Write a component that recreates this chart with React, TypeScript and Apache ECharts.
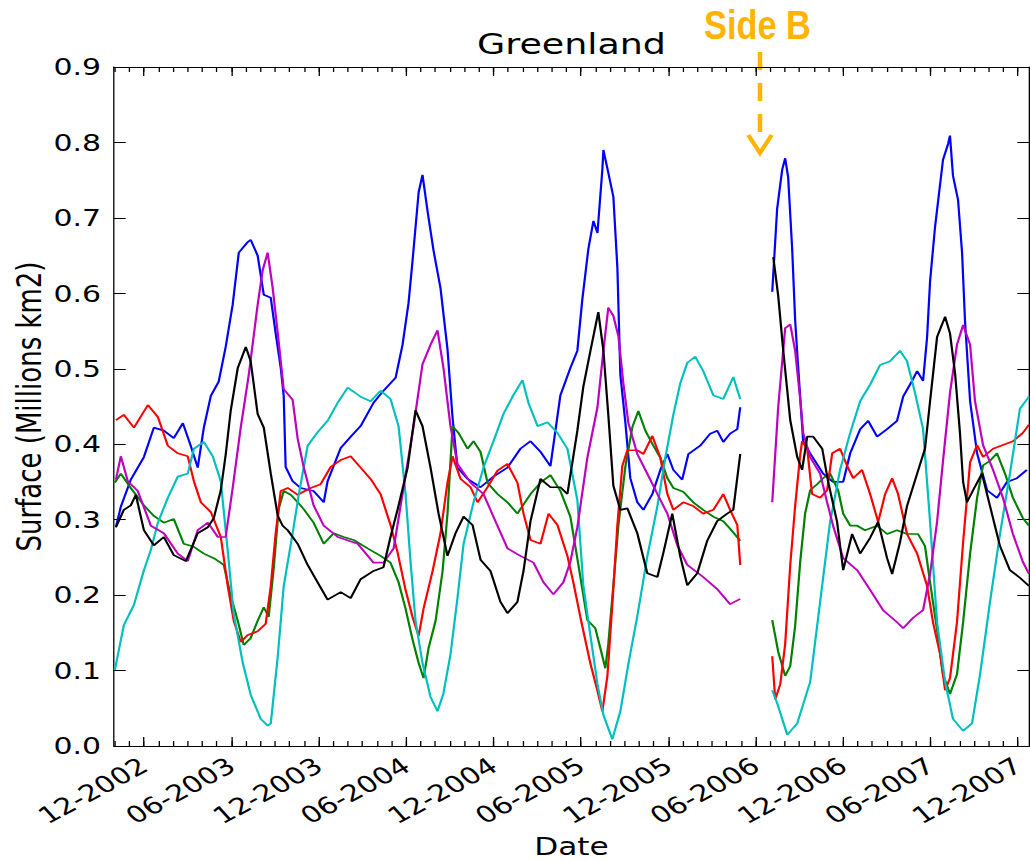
import React, { useEffect, useRef } from "react";
import * as echarts from "echarts";

// ---------- data ----------
const TICK_LABELS = [
  "12-2002", "06-2003", "12-2003", "06-2004", "12-2004", "06-2005",
  "12-2005", "06-2006", "12-2006", "06-2007", "12-2007",
];
const X_MIN = 2002.745;
const X_MAX = 2007.98;
const Y_MIN = 0;
const Y_MAX = 0.9;
const Y_STEP = 0.1;
const GAP_YEAR = 2006.42;

type Pt = [number, number];

const BLUE_A: Pt[] = [
  [2002.756, 0.29], [2002.784, 0.317], [2002.841, 0.353], [2002.916, 0.383], [2002.973, 0.422], [2003.03, 0.418],
  [2003.087, 0.408], [2003.139, 0.428], [2003.184, 0.398], [2003.224, 0.369], [2003.259, 0.422], [2003.299, 0.464],
  [2003.344, 0.483], [2003.384, 0.529], [2003.424, 0.585], [2003.459, 0.654], [2003.51, 0.668], [2003.527, 0.671],
  [2003.567, 0.65], [2003.602, 0.598], [2003.642, 0.594], [2003.67, 0.547], [2003.699, 0.501], [2003.716, 0.464],
  [2003.727, 0.37], [2003.767, 0.351], [2003.813, 0.342], [2003.887, 0.338], [2003.945, 0.323], [2003.967, 0.351],
  [2004.042, 0.395], [2004.099, 0.41], [2004.156, 0.424], [2004.23, 0.455], [2004.287, 0.471], [2004.356, 0.488],
  [2004.396, 0.532], [2004.43, 0.587], [2004.453, 0.643], [2004.488, 0.734], [2004.51, 0.757], [2004.539, 0.709],
  [2004.573, 0.657], [2004.613, 0.607], [2004.653, 0.526], [2004.682, 0.435], [2004.71, 0.369], [2004.768, 0.354],
  [2004.842, 0.343], [2004.916, 0.357], [2004.996, 0.369], [2005.07, 0.394], [2005.128, 0.404], [2005.185, 0.39],
  [2005.242, 0.371], [2005.299, 0.465], [2005.356, 0.501], [2005.396, 0.524], [2005.424, 0.591], [2005.459, 0.659],
  [2005.488, 0.696], [2005.511, 0.68], [2005.539, 0.764], [2005.545, 0.79], [2005.573, 0.76], [2005.602, 0.728],
  [2005.625, 0.634], [2005.642, 0.492], [2005.671, 0.428], [2005.699, 0.355], [2005.739, 0.323], [2005.774, 0.313],
  [2005.825, 0.334], [2005.871, 0.366], [2005.911, 0.387], [2005.945, 0.366], [2005.996, 0.353], [2006.031, 0.387],
  [2006.099, 0.398], [2006.156, 0.414], [2006.196, 0.418], [2006.231, 0.403], [2006.27, 0.414], [2006.311, 0.42],
  [2006.328, 0.449],
];
const BLUE_B: Pt[] = [
  [2006.511, 0.602], [2006.539, 0.712], [2006.568, 0.764], [2006.585, 0.779], [2006.602, 0.754], [2006.625, 0.659],
  [2006.642, 0.565], [2006.654, 0.521], [2006.688, 0.404], [2006.728, 0.388], [2006.802, 0.361], [2006.859, 0.35],
  [2006.917, 0.35], [2006.957, 0.388], [2007.014, 0.42], [2007.06, 0.431], [2007.111, 0.41], [2007.168, 0.42],
  [2007.225, 0.431], [2007.26, 0.463], [2007.311, 0.484], [2007.34, 0.497], [2007.374, 0.484], [2007.397, 0.542],
  [2007.414, 0.616], [2007.442, 0.687], [2007.488, 0.777], [2007.517, 0.798], [2007.528, 0.809], [2007.545, 0.756],
  [2007.574, 0.724], [2007.597, 0.654], [2007.614, 0.563], [2007.643, 0.457], [2007.683, 0.388], [2007.74, 0.339],
  [2007.797, 0.329], [2007.854, 0.35], [2007.911, 0.355], [2007.968, 0.366],
];

const GREEN_A: Pt[] = [
  [2002.75, 0.349], [2002.784, 0.361], [2002.841, 0.342], [2002.916, 0.319], [2002.973, 0.305], [2003.03, 0.296],
  [2003.087, 0.301], [2003.144, 0.268], [2003.202, 0.264], [2003.259, 0.255], [2003.316, 0.249], [2003.373, 0.24],
  [2003.413, 0.199], [2003.453, 0.166], [2003.487, 0.134], [2003.527, 0.143], [2003.567, 0.166], [2003.602, 0.184],
  [2003.63, 0.171], [2003.659, 0.236], [2003.687, 0.314], [2003.716, 0.338], [2003.756, 0.333], [2003.796, 0.323],
  [2003.83, 0.314], [2003.887, 0.296], [2003.945, 0.268], [2004.002, 0.282], [2004.059, 0.277], [2004.116, 0.273],
  [2004.196, 0.262], [2004.27, 0.252], [2004.327, 0.243], [2004.373, 0.217], [2004.413, 0.182], [2004.453, 0.141],
  [2004.488, 0.11], [2004.516, 0.09], [2004.545, 0.13], [2004.585, 0.166], [2004.625, 0.232], [2004.653, 0.308],
  [2004.682, 0.424], [2004.716, 0.415], [2004.768, 0.394], [2004.802, 0.404], [2004.842, 0.39], [2004.882, 0.349],
  [2004.939, 0.334], [2004.996, 0.323], [2005.053, 0.308], [2005.128, 0.334], [2005.185, 0.349], [2005.242, 0.359],
  [2005.299, 0.338], [2005.356, 0.304], [2005.402, 0.24], [2005.453, 0.167], [2005.499, 0.156], [2005.539, 0.119],
  [2005.556, 0.103], [2005.573, 0.135], [2005.602, 0.213], [2005.631, 0.293], [2005.671, 0.371], [2005.711, 0.423],
  [2005.745, 0.444], [2005.785, 0.418], [2005.831, 0.398], [2005.871, 0.382], [2005.911, 0.355], [2005.945, 0.342],
  [2006.002, 0.337], [2006.059, 0.323], [2006.116, 0.313], [2006.174, 0.304], [2006.231, 0.298], [2006.27, 0.288],
  [2006.328, 0.272],
];
const GREEN_B: Pt[] = [
  [2006.511, 0.167], [2006.545, 0.125], [2006.585, 0.093], [2006.614, 0.106], [2006.642, 0.159], [2006.671, 0.244],
  [2006.699, 0.308], [2006.728, 0.339], [2006.768, 0.347], [2006.802, 0.355], [2006.842, 0.361], [2006.888, 0.339],
  [2006.917, 0.308], [2006.957, 0.292], [2006.997, 0.292], [2007.042, 0.286], [2007.111, 0.292], [2007.168, 0.281],
  [2007.225, 0.286], [2007.282, 0.281], [2007.345, 0.281], [2007.385, 0.265], [2007.414, 0.217], [2007.454, 0.154],
  [2007.488, 0.095], [2007.528, 0.069], [2007.568, 0.095], [2007.603, 0.164], [2007.643, 0.255], [2007.683, 0.329],
  [2007.717, 0.372], [2007.757, 0.378], [2007.797, 0.388], [2007.843, 0.361], [2007.888, 0.329], [2007.945, 0.302],
  [2007.98, 0.292],
];

const RED_A: Pt[] = [
  [2002.756, 0.432], [2002.801, 0.439], [2002.859, 0.422], [2002.939, 0.452], [2002.996, 0.436], [2003.053, 0.398],
  [2003.11, 0.388], [2003.167, 0.384], [2003.202, 0.351], [2003.242, 0.323], [2003.299, 0.31], [2003.356, 0.277],
  [2003.396, 0.212], [2003.43, 0.166], [2003.47, 0.138], [2003.51, 0.147], [2003.567, 0.152], [2003.613, 0.162],
  [2003.642, 0.212], [2003.67, 0.282], [2003.699, 0.338], [2003.739, 0.342], [2003.796, 0.333], [2003.87, 0.342],
  [2003.927, 0.347], [2003.985, 0.37], [2004.042, 0.379], [2004.099, 0.384], [2004.156, 0.369], [2004.213, 0.354],
  [2004.27, 0.334], [2004.327, 0.293], [2004.367, 0.257], [2004.413, 0.207], [2004.453, 0.171], [2004.488, 0.146],
  [2004.516, 0.182], [2004.568, 0.232], [2004.613, 0.282], [2004.653, 0.349], [2004.682, 0.384], [2004.728, 0.354],
  [2004.785, 0.343], [2004.825, 0.323], [2004.882, 0.343], [2004.939, 0.365], [2004.996, 0.374], [2005.053, 0.349],
  [2005.088, 0.308], [2005.128, 0.273], [2005.185, 0.268], [2005.231, 0.308], [2005.282, 0.293], [2005.339, 0.252],
  [2005.373, 0.217], [2005.413, 0.171], [2005.471, 0.109], [2005.511, 0.073], [2005.539, 0.046], [2005.568, 0.093],
  [2005.596, 0.187], [2005.625, 0.293], [2005.653, 0.371], [2005.682, 0.392], [2005.739, 0.392], [2005.774, 0.387],
  [2005.825, 0.411], [2005.871, 0.382], [2005.911, 0.334], [2005.945, 0.313], [2006.002, 0.323], [2006.059, 0.318],
  [2006.116, 0.308], [2006.174, 0.313], [2006.231, 0.334], [2006.27, 0.313], [2006.311, 0.293], [2006.328, 0.24],
];
const RED_B: Pt[] = [
  [2006.511, 0.119], [2006.528, 0.062], [2006.557, 0.082], [2006.585, 0.135], [2006.614, 0.24], [2006.642, 0.318],
  [2006.671, 0.386], [2006.682, 0.404], [2006.711, 0.394], [2006.739, 0.334], [2006.785, 0.329], [2006.825, 0.339],
  [2006.854, 0.388], [2006.899, 0.394], [2006.94, 0.371], [2006.974, 0.355], [2007.025, 0.366], [2007.071, 0.334],
  [2007.117, 0.297], [2007.157, 0.334], [2007.197, 0.355], [2007.231, 0.334], [2007.282, 0.281], [2007.34, 0.255],
  [2007.397, 0.212], [2007.431, 0.164], [2007.471, 0.122], [2007.5, 0.074], [2007.528, 0.09], [2007.568, 0.164],
  [2007.603, 0.27], [2007.643, 0.376], [2007.683, 0.399], [2007.717, 0.383], [2007.774, 0.394], [2007.831, 0.399],
  [2007.888, 0.404], [2007.945, 0.415], [2007.98, 0.426],
];

const CYAN_A: Pt[] = [
  [2002.75, 0.101], [2002.801, 0.16], [2002.859, 0.187], [2002.916, 0.233], [2002.956, 0.26], [2002.996, 0.296],
  [2003.053, 0.329], [2003.11, 0.357], [2003.167, 0.361], [2003.202, 0.394], [2003.259, 0.403], [2003.31, 0.384],
  [2003.356, 0.351], [2003.396, 0.258], [2003.43, 0.175], [2003.482, 0.11], [2003.527, 0.068], [2003.584, 0.036],
  [2003.624, 0.027], [2003.642, 0.03], [2003.682, 0.119], [2003.716, 0.212], [2003.767, 0.282], [2003.802, 0.333],
  [2003.853, 0.398], [2003.91, 0.416], [2003.967, 0.431], [2004.025, 0.455], [2004.082, 0.475], [2004.156, 0.463],
  [2004.213, 0.457], [2004.27, 0.471], [2004.327, 0.46], [2004.373, 0.424], [2004.413, 0.334], [2004.442, 0.243],
  [2004.47, 0.166], [2004.51, 0.11], [2004.556, 0.065], [2004.596, 0.046], [2004.63, 0.07], [2004.67, 0.121],
  [2004.71, 0.196], [2004.745, 0.268], [2004.802, 0.323], [2004.859, 0.369], [2004.916, 0.404], [2004.973, 0.44],
  [2005.03, 0.465], [2005.082, 0.485], [2005.116, 0.455], [2005.168, 0.424], [2005.225, 0.429], [2005.282, 0.415],
  [2005.339, 0.394], [2005.396, 0.326], [2005.43, 0.213], [2005.471, 0.146], [2005.511, 0.082], [2005.545, 0.041],
  [2005.596, 0.009], [2005.642, 0.046], [2005.688, 0.109], [2005.739, 0.172], [2005.796, 0.251], [2005.854, 0.318],
  [2005.899, 0.382], [2005.945, 0.439], [2005.985, 0.481], [2006.025, 0.508], [2006.071, 0.516], [2006.116, 0.497],
  [2006.174, 0.465], [2006.231, 0.46], [2006.288, 0.489], [2006.328, 0.46],
];
const CYAN_B: Pt[] = [
  [2006.511, 0.074], [2006.539, 0.057], [2006.597, 0.015], [2006.654, 0.03], [2006.728, 0.085], [2006.785, 0.191],
  [2006.842, 0.297], [2006.899, 0.366], [2006.957, 0.415], [2007.014, 0.457], [2007.071, 0.479], [2007.128, 0.505],
  [2007.185, 0.51], [2007.242, 0.524], [2007.282, 0.51], [2007.328, 0.468], [2007.374, 0.42], [2007.414, 0.297],
  [2007.454, 0.164], [2007.5, 0.085], [2007.545, 0.036], [2007.603, 0.02], [2007.654, 0.03], [2007.7, 0.095],
  [2007.757, 0.191], [2007.814, 0.281], [2007.871, 0.361], [2007.928, 0.447], [2007.98, 0.463],
];

const MAGENTA_A: Pt[] = [
  [2002.756, 0.353], [2002.784, 0.384], [2002.824, 0.351], [2002.881, 0.338], [2002.956, 0.292], [2003.03, 0.282],
  [2003.11, 0.255], [2003.167, 0.245], [2003.224, 0.286], [2003.282, 0.296], [2003.339, 0.277], [2003.384, 0.277],
  [2003.424, 0.342], [2003.47, 0.422], [2003.516, 0.492], [2003.567, 0.585], [2003.596, 0.631], [2003.624, 0.654],
  [2003.653, 0.607], [2003.682, 0.547], [2003.716, 0.473], [2003.767, 0.459], [2003.796, 0.407], [2003.83, 0.37],
  [2003.887, 0.319], [2003.945, 0.292], [2004.025, 0.277], [2004.139, 0.268], [2004.23, 0.243], [2004.287, 0.243],
  [2004.345, 0.262], [2004.402, 0.343], [2004.459, 0.424], [2004.51, 0.506], [2004.556, 0.532], [2004.596, 0.551],
  [2004.63, 0.501], [2004.67, 0.424], [2004.71, 0.374], [2004.785, 0.349], [2004.859, 0.334], [2004.916, 0.304],
  [2004.996, 0.262], [2005.07, 0.252], [2005.145, 0.243], [2005.202, 0.217], [2005.259, 0.201], [2005.316, 0.217],
  [2005.356, 0.244], [2005.396, 0.29], [2005.453, 0.382], [2005.511, 0.449], [2005.545, 0.524], [2005.573, 0.581],
  [2005.602, 0.57], [2005.631, 0.543], [2005.659, 0.481], [2005.688, 0.428], [2005.739, 0.387], [2005.796, 0.361],
  [2005.854, 0.334], [2005.911, 0.308], [2005.968, 0.266], [2006.025, 0.24], [2006.116, 0.224], [2006.196, 0.208],
  [2006.27, 0.188], [2006.328, 0.195],
];
const MAGENTA_B: Pt[] = [
  [2006.511, 0.323], [2006.545, 0.449], [2006.585, 0.554], [2006.614, 0.559], [2006.642, 0.524], [2006.671, 0.46],
  [2006.688, 0.415], [2006.728, 0.383], [2006.785, 0.361], [2006.825, 0.323], [2006.859, 0.292], [2006.917, 0.249],
  [2006.997, 0.233], [2007.071, 0.207], [2007.145, 0.18], [2007.225, 0.164], [2007.26, 0.156], [2007.317, 0.17],
  [2007.374, 0.18], [2007.414, 0.228], [2007.454, 0.297], [2007.488, 0.378], [2007.528, 0.468], [2007.568, 0.532],
  [2007.603, 0.558], [2007.643, 0.532], [2007.671, 0.457], [2007.717, 0.399], [2007.774, 0.366], [2007.831, 0.329],
  [2007.888, 0.281], [2007.945, 0.244], [2007.98, 0.228],
];

const BLACK_A: Pt[] = [
  [2002.756, 0.29], [2002.801, 0.313], [2002.841, 0.319], [2002.87, 0.333], [2002.916, 0.286], [2002.973, 0.266],
  [2003.03, 0.277], [2003.087, 0.253], [2003.156, 0.245], [2003.224, 0.282], [2003.282, 0.29], [2003.316, 0.302],
  [2003.356, 0.339], [2003.384, 0.386], [2003.413, 0.445], [2003.453, 0.501], [2003.499, 0.529], [2003.527, 0.51],
  [2003.567, 0.44], [2003.602, 0.422], [2003.642, 0.361], [2003.682, 0.305], [2003.71, 0.292], [2003.739, 0.286],
  [2003.796, 0.268], [2003.853, 0.24], [2003.91, 0.217], [2003.967, 0.194], [2004.042, 0.204], [2004.099, 0.196],
  [2004.156, 0.221], [2004.23, 0.232], [2004.287, 0.237], [2004.327, 0.277], [2004.367, 0.313], [2004.425, 0.369],
  [2004.47, 0.445], [2004.51, 0.424], [2004.556, 0.369], [2004.602, 0.308], [2004.653, 0.252], [2004.699, 0.282],
  [2004.745, 0.304], [2004.796, 0.293], [2004.842, 0.247], [2004.899, 0.232], [2004.956, 0.191], [2004.996, 0.176],
  [2005.053, 0.191], [2005.088, 0.232], [2005.128, 0.298], [2005.185, 0.354], [2005.242, 0.343], [2005.299, 0.343],
  [2005.339, 0.334], [2005.373, 0.384], [2005.396, 0.418], [2005.43, 0.476], [2005.471, 0.524], [2005.516, 0.575],
  [2005.545, 0.524], [2005.573, 0.439], [2005.602, 0.345], [2005.642, 0.313], [2005.682, 0.315], [2005.739, 0.282],
  [2005.796, 0.229], [2005.854, 0.224], [2005.888, 0.256], [2005.939, 0.308], [2005.985, 0.251], [2006.025, 0.213],
  [2006.082, 0.229], [2006.139, 0.272], [2006.196, 0.298], [2006.253, 0.308], [2006.288, 0.313], [2006.328, 0.387],
];
const BLACK_B: Pt[] = [
  [2006.517, 0.648], [2006.545, 0.597], [2006.574, 0.524], [2006.614, 0.432], [2006.654, 0.383], [2006.682, 0.366],
  [2006.711, 0.41], [2006.745, 0.41], [2006.797, 0.394], [2006.831, 0.35], [2006.882, 0.297], [2006.917, 0.233],
  [2006.968, 0.281], [2007.014, 0.255], [2007.071, 0.276], [2007.117, 0.297], [2007.168, 0.249], [2007.197, 0.228],
  [2007.242, 0.27], [2007.282, 0.318], [2007.34, 0.361], [2007.385, 0.394], [2007.414, 0.457], [2007.454, 0.542],
  [2007.5, 0.569], [2007.528, 0.547], [2007.557, 0.494], [2007.585, 0.415], [2007.603, 0.35], [2007.625, 0.323],
  [2007.66, 0.339], [2007.711, 0.361], [2007.757, 0.318], [2007.814, 0.265], [2007.871, 0.233], [2007.928, 0.223],
  [2007.98, 0.212],
];

const SERIES_DEFS = [
  { name: "Blue", color: "#0000ff", a: BLUE_A, b: BLUE_B },
  { name: "Green", color: "#008000", a: GREEN_A, b: GREEN_B },
  { name: "Red", color: "#ff0000", a: RED_A, b: RED_B },
  { name: "Cyan", color: "#00bfbf", a: CYAN_A, b: CYAN_B },
  { name: "Magenta", color: "#bf00bf", a: MAGENTA_A, b: MAGENTA_B },
  { name: "Black", color: "#000000", a: BLACK_A, b: BLACK_B },
];

// ---------- layout ----------
const OUT_W = 1030;
const OUT_H = 860;
const CHART_W = 792;
const K = OUT_W / CHART_W; // horizontal stretch of the original picture
const FONT = "DejaVu Sans";
const ACCENT = "#FFB400";

function labelToYear(label: string): number {
  const [m, y] = label.split("-").map(Number);
  return y + (m - 1) / 12;
}

export default function App() {
  const ref = useRef<HTMLDivElement | null>(null);

  useEffect(() => {
    if (!ref.current) return;
    const chart = echarts.init(ref.current, null, { renderer: "svg" });

    const majorValues = TICK_LABELS.map(labelToYear);
    const minorValues: number[] = [];
    for (let i = Math.ceil(X_MIN * 12); i <= Math.floor(X_MAX * 12); i++) minorValues.push(i / 12);

    const fmtX = (v: number) => {
      const idx = majorValues.findIndex((mv) => Math.abs(mv - v) < 1e-6);
      return idx >= 0 ? TICK_LABELS[idx] : "";
    };

    const axisLine = { show: true, onZero: false, lineStyle: { color: "#000", width: 1 } };

    const baseX = {
      type: "value",
      min: X_MIN,
      max: X_MAX,
      gridIndex: 0,
      splitLine: { show: false },
      axisLine,
      nameMoveOverlap: false,
    };

    const xAxes = [
      {
        ...baseX,
        position: "bottom",
        name: "Date",
        nameLocation: "middle",
        nameGap: 89,
        nameTextStyle: { fontFamily: FONT, fontSize: 24, color: "#000" },
        axisTick: { show: true, inside: true, length: 9, customValues: majorValues, lineStyle: { color: "#000" } },
        axisLabel: {
          show: true,
          customValues: majorValues,
          formatter: fmtX,
          rotate: 35,
          margin: 17,
          fontFamily: FONT,
          fontSize: 23,
          color: "#000",
        },
      },
      {
        ...baseX,
        position: "bottom",
        axisTick: { show: true, inside: true, length: 5, customValues: minorValues, lineStyle: { color: "#000" } },
        axisLabel: { show: false },
      },
      {
        ...baseX,
        position: "top",
        name: "Greenland",
        nameLocation: "middle",
        nameGap: 8,
        nameTextStyle: { fontFamily: FONT, fontSize: 28, color: "#000" },
        axisTick: { show: true, inside: true, length: 9, customValues: majorValues, lineStyle: { color: "#000" } },
        axisLabel: { show: false },
      },
      {
        ...baseX,
        position: "top",
        axisTick: { show: true, inside: true, length: 5, customValues: minorValues, lineStyle: { color: "#000" } },
        axisLabel: { show: false },
      },
    ];

    const baseY = {
      type: "value",
      min: Y_MIN,
      max: Y_MAX,
      interval: Y_STEP,
      gridIndex: 0,
      splitLine: { show: false },
      axisLine,
      axisTick: { show: true, inside: true, length: 9, lineStyle: { color: "#000" } },
      nameMoveOverlap: false,
    };

    const yAxes = [
      {
        ...baseY,
        position: "left",
        name: "Surface (Millions km2)",
        nameLocation: "middle",
        nameGap: 52,
        nameRotate: 90,
        nameTextStyle: { fontFamily: FONT, fontSize: 26, color: "#000" },
        axisLabel: {
          show: true,
          margin: 10,
          fontFamily: FONT,
          fontSize: 23,
          color: "#000",
          formatter: (v: number) => v.toFixed(1),
        },
      },
      { ...baseY, position: "right", axisLabel: { show: false } },
    ];

    const series = SERIES_DEFS.map((s) => ({
      type: "line",
      name: s.name,
      xAxisIndex: 0,
      yAxisIndex: 0,
      data: [...s.a, [GAP_YEAR, "-"], ...s.b],
      showSymbol: false,
      symbol: "none",
      connectNulls: false,
      silent: true,
      lineStyle: { color: s.color, width: 1.7 },
      itemStyle: { color: s.color },
    }));

    const arrowX = 760 / K;

    chart.setOption({
      animation: false,
      backgroundColor: "#ffffff",
      grid: {
        left: 114 / K,
        right: CHART_W - 1029 / K,
        top: 67,
        bottom: OUT_H - 746,
        containLabel: false,
        outerBoundsMode: "none",
      },
      xAxis: xAxes,
      yAxis: yAxes,
      series,
      graphic: [
        {
          type: "text",
          x: 757.5 / K,
          y: 25,
          scaleX: 0.66,
          style: {
            text: "Side B",
            fontSize: 40,
            fontWeight: "bold",
            fontFamily: "Liberation Sans",
            fill: ACCENT,
            textAlign: "center",
            textVerticalAlign: "middle",
            align: "center",
            verticalAlign: "middle",
          },
        },
        {
          type: "line",
          shape: { x1: arrowX, y1: 52, x2: arrowX, y2: 132 },
          style: { stroke: ACCENT, lineWidth: 3.5, lineDash: [18, 13] },
        },
        {
          type: "polyline",
          shape: { points: [[748.3 / K, 135], [arrowX, 153], [771.7 / K, 135]] },
          style: { stroke: ACCENT, lineWidth: 3.5, fill: null },
        },
      ],
    });

    return () => chart.dispose();
  }, []);

  return (
    <div
      style={{
        position: "absolute",
        left: 0,
        top: 0,
        width: OUT_W,
        height: OUT_H,
        overflow: "hidden",
        background: "#fff",
      }}
    >
      <div
        ref={ref}
        style={{ width: CHART_W, height: OUT_H, transform: `scaleX(${K})`, transformOrigin: "0 0" }}
      />
    </div>
  );
}
